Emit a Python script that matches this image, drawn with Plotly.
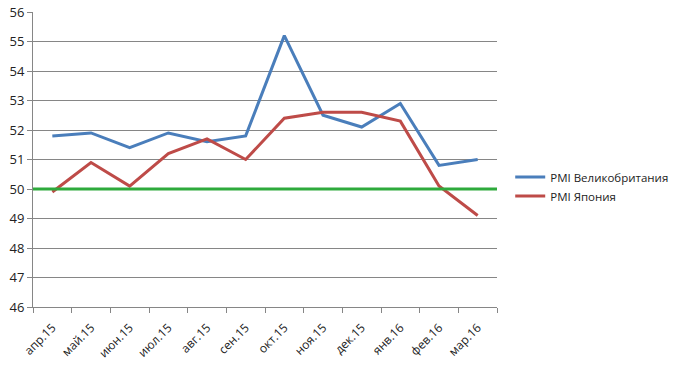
import plotly.graph_objects as go

categories = ["апр.15", "май.15", "июн.15", "июл.15", "авг.15", "сен.15",
              "окт.15", "ноя.15", "дек.15", "янв.16", "фев.16", "мар.16"]
pmi_uk = [51.8, 51.9, 51.4, 51.9, 51.6, 51.8, 55.2, 52.5, 52.1, 52.9, 50.8, 51.0]
pmi_japan = [49.9, 50.9, 50.1, 51.2, 51.7, 51.0, 52.4, 52.6, 52.6, 52.3, 50.1, 49.1]
threshold = 50
y_ticks = [46, 47, 48, 49, 50, 51, 52, 53, 54, 55, 56]

fig = go.Figure()
fig.add_trace(go.Scatter(x=categories, y=pmi_uk, mode="lines", name="PMI Великобритания",
                         line=dict(color="#4A7EBB", width=3)))
fig.add_trace(go.Scatter(x=categories, y=pmi_japan, mode="lines", name="PMI Япония",
                         line=dict(color="#BE4B48", width=3)))
fig.add_shape(type="line", xref="paper", yref="y", x0=0, x1=1, y0=threshold, y1=threshold,
              line=dict(color="#2EAA3C", width=3), layer="above")

fig.update_layout(
    width=674, height=365,
    margin=dict(l=33, r=177, t=12, b=58),
    paper_bgcolor="white", plot_bgcolor="white",
    font=dict(family="Open Sans, Liberation Sans, sans-serif", size=12, color="#222222"),
    showlegend=True,
    legend=dict(xref="container", yref="container", x=0.757, y=0.489,
                xanchor="left", yanchor="middle",
                font=dict(size=11.5, color="#222222"),
                bgcolor="rgba(0,0,0,0)"),
    xaxis=dict(type="category", tickson="boundaries", ticks="outside", ticklen=5,
               tickcolor="#868686", showline=True, linecolor="#868686", linewidth=1,
               showgrid=False, tickangle=-45, tickfont=dict(size=12), automargin=False,
               ticklabelstandoff=8,
               range=[-0.5, len(categories) - 0.5]),
    yaxis=dict(range=[46, 56], tickvals=y_ticks, ticks="outside", ticklen=5,
               tickcolor="#868686", showline=True, linecolor="#868686", linewidth=1,
               showgrid=True, gridcolor="#868686", gridwidth=1, zeroline=False,
               tickfont=dict(size=13), automargin=False),
)

fig.write_html("out.html", config={"displayModeBar": False},
               post_script="document.body.style.margin='0';")
